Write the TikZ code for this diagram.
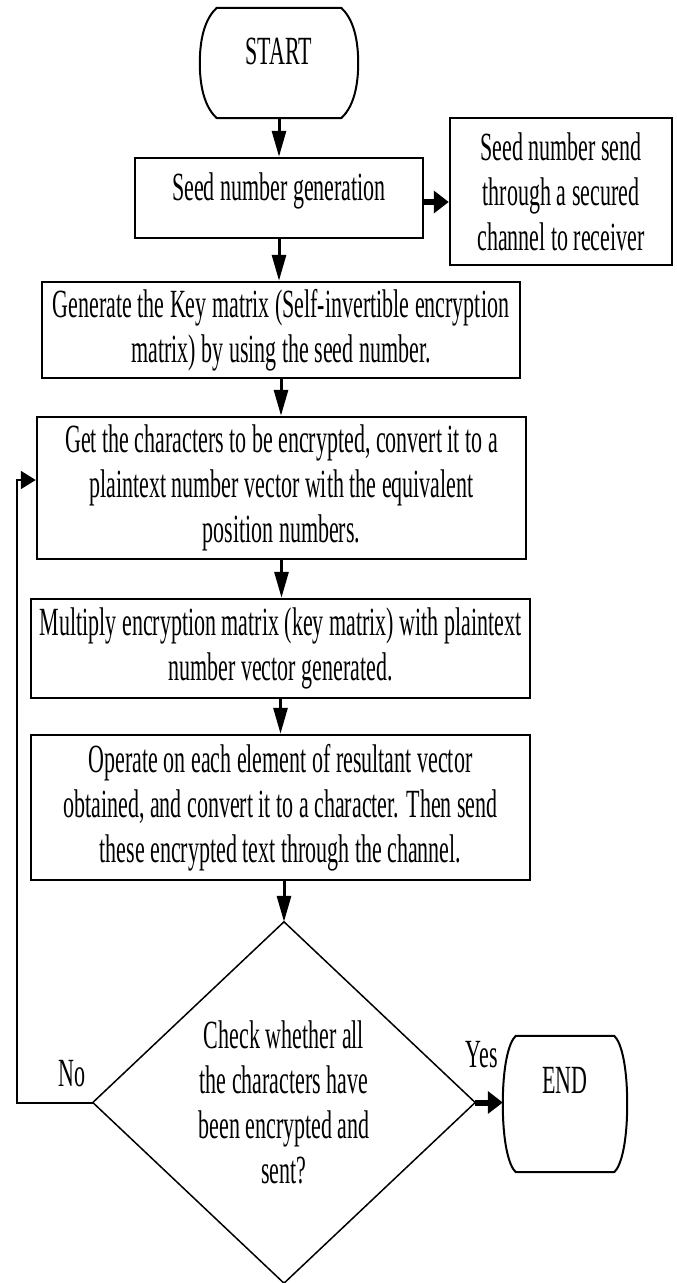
\documentclass[tikz,border=0pt]{standalone}
\usepackage{fontspec}
\setmainfont{Liberation Serif}[FakeStretch=0.55]
\usetikzlibrary{arrows.meta}
\newcommand\termoutline[3]{%
\draw[termline] ([xshift=#2]#1.north west) -- ([xshift=-#2]#1.north east)
 .. controls ([xshift=-#2*0.45,yshift=-#2*0.5]#1.north east) and ([yshift=#3]#1.east) .. (#1.east)
 .. controls ([yshift=-#3]#1.east) and ([xshift=-#2*0.45,yshift=#2*0.5]#1.south east) .. ([xshift=-#2]#1.south east)
 -- ([xshift=#2]#1.south west)
 .. controls ([xshift=#2*0.45,yshift=#2*0.5]#1.south west) and ([yshift=-#3]#1.west) .. (#1.west)
 .. controls ([yshift=#3]#1.west) and ([xshift=#2*0.45,yshift=-#2*0.5]#1.north west) .. ([xshift=#2]#1.north west) -- cycle;}
\begin{document}
\begin{tikzpicture}[x=1pt,y=-1pt,
  txt/.style={font=\fontsize{40}{45}\selectfont, inner sep=0pt},
  box/.style={txt, draw, line width=2.5pt, rectangle, align=center},
  term/.style={txt, rectangle},
  termline/.style={line width=2pt, line join=round},
  flow/.style={line width=3pt, -{Triangle[length=26pt,width=14pt]}},
  hflow/.style={line width=6pt, -{Triangle[length=15pt,width=22pt]}},
  loopflow/.style={line width=2pt, -{Triangle[length=15pt,width=18pt]}},
  lbl/.style={txt}]
\useasboundingbox (0,0) rectangle (677,1283);
\fill[white] (0,0) rectangle (677,1283);

% nodes
\node[term, minimum width=158pt, minimum height=110pt, text depth=23pt] (start) at (279,63) {START};
\node[box, minimum width=288pt, minimum height=80pt, text depth=23pt, align=none] (seed) at (279,198) {Seed number generation};
\node[box, minimum width=222pt, minimum height=147pt] (send) at (561,191.5) {Seed number send\\through a secured\\channel to receiver};
\node[box, minimum width=478pt, minimum height=96pt] (key) at (281,330) {Generate the Key matrix (Self-invertible encryption\\matrix) by using the seed number.};
\node[box, minimum width=489pt, minimum height=142pt] (get) at (281.5,488) {Get the characters to be encrypted, convert it to a\\plaintext number vector with the equivalent\\position numbers.};
\node[box, minimum width=499pt, minimum height=99pt] (mult) at (280.5,648.5) {Multiply encryption matrix (key matrix) with plaintext\\number vector generated.};
\node[box, minimum width=499pt, minimum height=145pt] (oper) at (280.5,807.5) {Operate on each element of resultant vector\\obtained, and convert it to a character. Then send\\these encrypted text through the channel.};
\node[txt, align=center, minimum width=382pt, minimum height=361pt] (dec) at (284,1102.5) {Check whether all\\the characters have\\been encrypted and\\sent?};
\node[term, minimum width=124pt, minimum height=136pt, text depth=47pt] (endn) at (565,1104) {END};

% outlines of terminals and decision
\termoutline{start}{17pt}{30pt}
\termoutline{endn}{13pt}{38pt}
\draw[line width=1.5pt, line join=miter] (dec.north) -- (dec.east) -- (dec.south) -- (dec.west) -- cycle;

% connectors
\draw[flow] (start.south) -- (start.south |- seed.north);
\draw[hflow] ([yshift=-4pt]seed.east) -- ([yshift=-4pt]seed.east -| send.west);
\draw[flow] (seed.south) -- (seed.south |- key.north);
\draw[flow] (key.south) -- (key.south |- get.north);
\draw[flow] (get.south) -- (get.south |- mult.north);
\draw[flow] (mult.south) -- (mult.south |- oper.north);
\draw[flow] (dec.north |- oper.south) -- (dec.north);
\draw[hflow] (dec.east) -- (dec.east -| endn.west) node[lbl] at (482,1055) {Yes};
\draw[loopflow] (dec.west) -- ++(-76,0) coordinate (loopc) |- ([yshift=8pt]get.west);
\node[lbl] (no) at (72,1074) {No};
\end{tikzpicture}
\end{document}
